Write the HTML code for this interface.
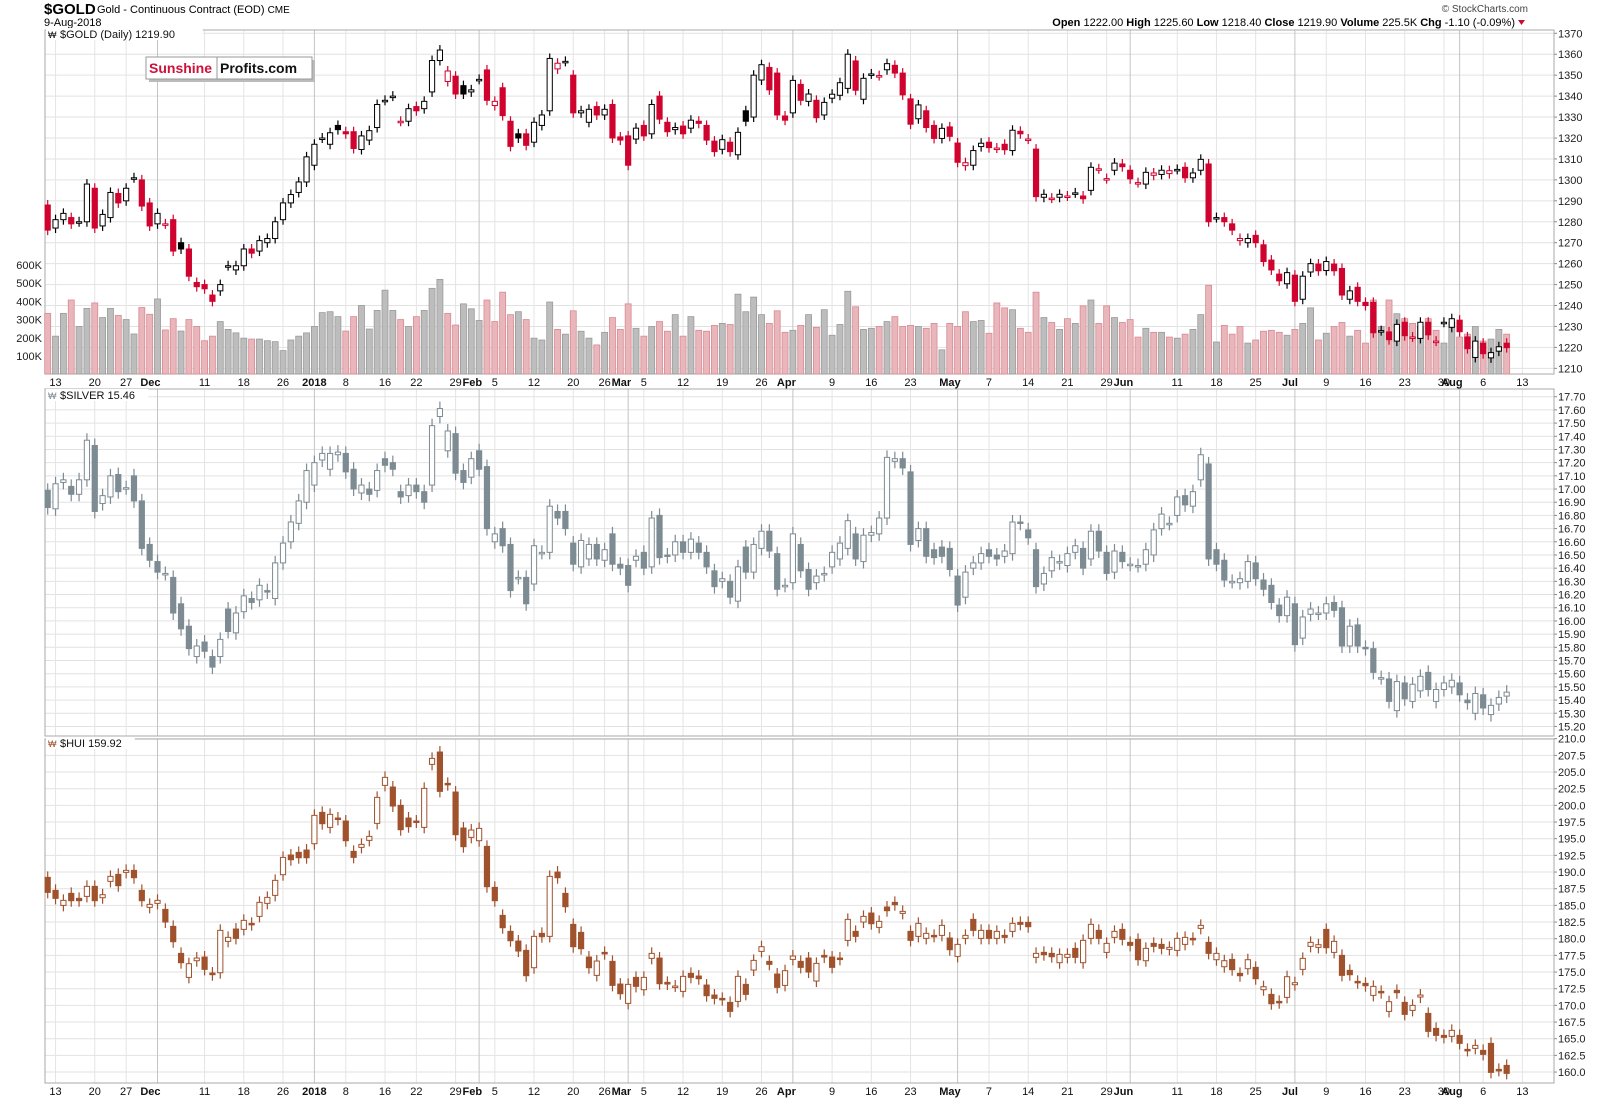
<!DOCTYPE html>
<html><head><meta charset="utf-8"><style>
html,body{margin:0;padding:0;background:#fff}
svg{display:block;font-family:"Liberation Sans",Arial,sans-serif}
</style></head><body>
<svg id="c" width="1600" height="1100" viewBox="0 0 1600 1100" xmlns="http://www.w3.org/2000/svg">
<text x="44" y="14" font-size="15" font-weight="bold">$GOLD</text>
<text x="97" y="13" font-size="11">Gold - Continuous Contract (EOD) <tspan font-size="10">CME</tspan></text>
<text x="44" y="26" font-size="11">9-Aug-2018</text>
<text x="1528" y="12" font-size="10" fill="#444" text-anchor="end">© StockCharts.com</text>
<text x="1515" y="26" font-size="11" text-anchor="end"><tspan font-weight="bold">Open</tspan> 1222.00 <tspan font-weight="bold">High</tspan> 1225.60 <tspan font-weight="bold">Low</tspan> 1218.40 <tspan font-weight="bold">Close</tspan> 1219.90 <tspan font-weight="bold">Volume</tspan> 225.5K <tspan font-weight="bold">Chg</tspan> -1.10 (-0.09%)</text>
<polygon points="1518,20 1525,20 1521.5,25" fill="#c8102e"/>
<g id="grid"></g>
<g id="marks"></g>
<g id="labels"></g>
<g>
<rect x="149" y="60" width="166" height="22" fill="#bbb"/>
<rect x="146" y="57" width="166" height="22" fill="#fff" stroke="#999" stroke-width="1"/>
<line x1="217" y1="57" x2="217" y2="79" stroke="#999"/>
<text x="149" y="73" font-size="14" font-weight="bold" fill="#d0103a">Sunshine</text>
<text x="220" y="73" font-size="14" font-weight="bold" fill="#111">Profits.com</text>
</g>
</svg>
<script>
const goldOpen=[1288,1277,1281,1282,1280,1280,1296,1278,1282,1293.5,1290,1301,1300,1289,1279,1279,1281,1270,1267,1251,1250,1245,1247,1259,1257,1259,1267,1266,1270,1272,1281,1289,1294,1299,1307,1320,1317,1326,1323,1323,1314.5,1319,1325,1338,1340,1328,1328,1335,1334,1342,1357,1347,1349.5,1345,1342,1348,1352.5,1335.5,1344,1328,1322,1322,1318,1326,1333,1353,1356.6,1350,1332,1327.5,1335,1331,1336,1320.5,1321,1319.5,1326,1322,1340,1327.5,1324,1325.7,1324.7,1328,1326,1318.5,1314.6,1318,1312,1333,1330,1347.7,1353.7,1351,1330.5,1332,1345.6,1337.5,1338,1331,1339,1340.4,1343.7,1356.8,1338.5,1350.6,1349.8,1352.6,1354.7,1351,1338.7,1329.2,1333,1326,1319.8,1325.3,1317.6,1306.8,1307,1315.9,1318,1315.2,1317,1314,1323.2,1319.5,1314.7,1291.7,1291.3,1291.7,1292.3,1293.8,1292.3,1295,1305.3,1300.6,1304.6,1307.6,1304.6,1298.7,1298,1302.2,1302.6,1303,1305,1306,1301,1304.6,1307.6,1282,1282,1279,1271,1270,1273.5,1269,1261.7,1255,1250.4,1254.5,1243,1256,1259.8,1256.7,1259.8,1257.7,1243,1248.7,1241.5,1241.5,1228,1227.4,1223,1232,1225,1224.3,1232,1223,1232,1229.6,1233,1225,1215.2,1222,1215,1218.2,1222];
const goldClose=[1276,1281,1284,1279,1280,1298,1277,1283.5,1294,1289,1296,1301,1287.5,1278,1284,1279,1266,1267,1254,1249,1248,1242,1250,1259,1259,1267,1265,1271,1272,1280,1289,1293,1299,1311,1317,1320,1322.5,1324,1322,1315,1321,1323.5,1336,1338,1340,1328,1334,1333,1337.5,1357,1362,1352,1341,1341,1343,1348,1338,1337.5,1330.7,1316,1320,1316.5,1327.5,1331,1358,1355.7,1356.6,1332,1333,1333.7,1331,1333.7,1320,1319,1307,1324.7,1321,1336,1329,1323,1325,1322,1328.5,1327,1319,1313.5,1319.2,1313.5,1322.7,1328,1350,1355,1343,1331,1328.5,1347.5,1338,1341,1329.7,1337,1340.9,1346.4,1360,1342.8,1348.5,1350.6,1349.8,1355.5,1351,1340.6,1326.6,1335.8,1325,1319.8,1324.6,1320.8,1308.4,1308.2,1314,1317.5,1315.4,1315.2,1314.4,1323.7,1322,1319.5,1292,1293.1,1291.3,1293.1,1292.3,1293.8,1291,1306,1305.3,1300.6,1308,1306.3,1300.5,1298.7,1303.6,1303.3,1304.6,1304.4,1305,1301,1303.3,1309.8,1280,1282,1280,1276,1272,1272,1270,1261,1257,1251.8,1255.7,1242,1254,1260,1256.6,1261,1256.6,1245,1247,1242,1240,1227,1228,1223.7,1231,1225.6,1225,1232,1226,1223,1232,1233.7,1227.5,1219.4,1223,1217,1217.5,1220.3,1219.9];
const goldVolumeK=[334,209,334,407,262,361,391,311,361,323,300,221,366,329,413,243,305,237,300,262,184,209,289,246,227,198,193,193,184,179,130,188,209,227,262,338,343,316,237,316,377,248,350,461,350,300,262,316,350,471,520,334,270,386,359,295,407,289,450,327,343,300,198,188,396,246,220,348,236,198,161,230,311,246,386,252,209,262,289,236,327,209,316,241,236,268,279,273,439,343,423,327,279,348,230,241,268,327,257,354,214,273,455,370,246,252,262,289,316,262,268,262,252,279,134,279,262,343,289,295,225,391,364,354,252,230,450,311,284,246,305,279,375,407,279,375,311,284,300,204,252,230,230,204,198,220,246,327,488,177,268,220,262,171,188,236,241,230,214,246,279,364,188,225,262,284,209,241,171,407,262,407,332,305,279,262,305,241,171,284,204,220,262,182,193,246,220];
const silverOpen=[16.99,16.85,17.05,17.02,16.96,17.07,17.33,16.89,16.94,17.11,17.01,17.10,16.91,16.58,16.45,16.36,16.33,16.13,15.96,15.73,15.84,15.73,15.73,16.09,15.91,16.07,16.17,16.16,16.23,16.17,16.44,16.60,16.74,16.90,17.03,17.22,17.15,17.26,17.27,17.15,16.97,17.00,16.99,17.23,17.20,16.98,16.95,17.03,16.98,17.03,17.55,17.29,17.42,17.14,17.09,17.29,17.17,16.60,16.70,16.58,16.33,16.33,16.28,16.52,16.52,16.83,16.83,16.59,16.41,16.47,16.58,16.46,16.66,16.43,16.42,16.46,16.52,16.41,16.80,16.50,16.50,16.60,16.52,16.59,16.52,16.38,16.30,16.30,16.15,16.56,16.37,16.55,16.68,16.51,16.27,16.29,16.58,16.39,16.29,16.35,16.41,16.47,16.55,16.66,16.45,16.65,16.66,16.78,17.21,17.23,17.13,16.61,16.70,16.54,16.56,16.55,16.34,16.18,16.40,16.44,16.54,16.50,16.49,16.51,16.75,16.69,16.54,16.28,16.38,16.44,16.42,16.52,16.55,16.47,16.68,16.52,16.37,16.52,16.43,16.42,16.43,16.50,16.70,16.74,16.80,16.95,16.87,17.07,17.19,16.54,16.46,16.30,16.29,16.30,16.44,16.31,16.27,16.12,16.04,16.13,15.87,16.05,16.06,16.06,16.14,16.10,15.81,15.97,15.80,15.79,15.57,15.56,15.32,15.53,15.39,15.47,15.61,15.39,15.48,15.50,15.53,15.40,15.30,15.44,15.29,15.37,15.43];
const silverClose=[16.86,17.04,17.07,16.96,17.07,17.37,16.83,16.95,17.10,16.98,17.01,16.91,16.55,16.46,16.37,16.36,16.06,15.94,15.79,15.81,15.77,15.65,15.86,15.92,16.06,16.19,16.14,16.27,16.22,16.44,16.59,16.75,16.91,17.14,17.20,17.27,17.27,17.28,17.13,17.00,17.03,16.96,17.14,17.18,17.15,16.94,17.03,16.98,16.90,17.48,17.61,17.44,17.12,17.05,17.23,17.15,16.70,16.66,16.57,16.23,16.33,16.13,16.57,16.52,16.87,16.78,16.70,16.43,16.61,16.58,16.47,16.54,16.43,16.40,16.27,16.49,16.40,16.78,16.48,16.49,16.60,16.52,16.62,16.52,16.41,16.26,16.32,16.18,16.41,16.37,16.58,16.68,16.53,16.24,16.27,16.66,16.38,16.24,16.34,16.36,16.52,16.59,16.76,16.47,16.65,16.67,16.78,17.24,17.23,17.16,16.58,16.70,16.49,16.48,16.49,16.39,16.12,16.37,16.44,16.51,16.49,16.47,16.53,16.75,16.74,16.63,16.26,16.36,16.48,16.45,16.51,16.57,16.40,16.68,16.53,16.36,16.53,16.45,16.43,16.42,16.54,16.69,16.81,16.74,16.94,16.88,16.98,17.26,16.47,16.43,16.31,16.30,16.32,16.45,16.32,16.24,16.14,16.04,16.18,15.82,16.03,16.09,16.06,16.13,16.08,15.81,15.96,15.81,15.79,15.61,15.57,15.39,15.54,15.41,15.52,15.58,15.48,15.48,15.53,15.55,15.44,15.38,15.45,15.34,15.36,15.42,15.46];
const huiOpen=[189.2,187.25,185,186.8,186.05,186.35,187.85,186.15,188.6,189.65,189.95,190.25,187.25,184.7,185.3,184.4,181.85,177.8,174.2,176.7,177.25,174.85,174.9,179.6,181.45,181.4,182.3,183.35,185.3,186.5,189.6,192.55,192.95,193.3,194.25,198.95,196.7,198.1,197.65,193.1,193.7,194.75,197.3,203,202.75,200,198.1,197.65,196.7,206.15,208,203.3,202,196.6,195.2,194.7,193.85,187.7,183.5,181.1,179.65,178.25,175.65,180.8,180.35,190,186.8,182.15,180.95,177.25,174.5,177.95,176.6,173.2,170.3,174.2,172.35,177.05,177.1,173.45,172.9,172.1,174.8,174.4,173.05,171.55,171.05,170.45,170.6,173.15,175.3,178.1,176.6,174.7,173,176.9,176.6,177.1,173.65,177.5,177.25,177.1,179.75,181.1,182.5,183.85,181.7,184.75,185.45,183.8,181.1,180.35,180.05,180.5,180.5,180.1,177.35,180.05,182.9,180.05,181.25,180.05,180.5,181.1,182.45,182.45,177.2,177.95,177.8,176.4,177.2,178.55,176.4,180.05,181.25,177.95,180.2,181.4,179.45,179.9,176.7,179.3,179.15,178.4,178.25,179.15,180.05,181.55,179.45,176.85,175.8,176.9,174.8,175.5,175.7,172.35,171.65,170.6,171.2,173.1,175.4,178.85,178.7,181.4,177.95,177.5,175.25,173.6,173.3,171.5,172.1,169.1,172.25,170.45,169.25,171.25,168.8,166.55,165.5,165.35,165.5,163.4,163.55,163.25,164.3,160.4,161];
const huiClose=[186.95,186.05,185.75,185.7,185.7,187.85,185.7,186.6,189.35,187.95,190.25,189.15,185.7,185.15,185.75,182.5,179.55,176.4,176.25,177.1,175.4,174.6,181.25,180.2,180.05,182.75,182.1,185.45,186.2,188.75,192.2,191.85,192.15,192.15,198.5,197.25,198.65,197.9,194.7,192.2,194.15,195.35,201.2,204.2,199.9,196.35,196.8,197.5,202.55,207.05,202.1,203.1,195.6,193.8,196.3,196.55,187.8,185.7,181.65,179.7,178.15,174.45,180.35,180.3,189.35,189.15,184.8,178.8,178.5,175.65,176.65,177.75,173,171.75,173.15,172.85,174.2,177.8,173.25,173.2,172.9,174.35,174.2,174,171.45,171.05,170.85,169.1,174.35,171.65,176.75,178.8,176.15,172.7,175.2,177.4,175.7,175,176.3,177.25,175.7,176.9,182.9,180.35,183.35,182.25,182.6,184.2,185.1,184.1,179.75,182.3,180.8,180.35,182,178.35,179.15,180.5,181.25,181.25,180.05,181.1,180.2,182.3,182.15,181.8,177.8,177.6,177.3,177.65,177.65,177.2,179.75,182.15,180.05,179.3,181.1,179.9,179,176.85,178.55,178.85,178.55,178.7,180.05,180.2,179.9,182,177.8,177.8,176.7,175.35,174.45,176.85,174,172.8,170.25,170.4,174.3,173.4,177.05,179.45,179.1,178.65,179.6,174.5,174.6,173.4,172.95,172.85,171.9,170.55,171.9,168.65,170,171.55,166.1,165.5,165.2,166.25,164.3,163.25,164,162.65,159.95,160.25,159.8];
const dateTickIndex=[1,6,10,14,20,25,30,34,38,43,47,52,55,57,62,67,71,74,76,81,86,91,95,100,105,110,116,120,125,130,135,138,144,149,154,159,163,168,173,178,180,183,188];
const dateTickLabel=["13","20","27","Dec","11","18","26","2018","8","16","22","29","Feb","5","12","20","26","Mar","5","12","19","26","Apr","9","16","23","May","7","14","21","29","Jun","11","18","25","Jul","9","16","23","30","Aug","6","13"];
const monthTicks=["Dec","2018","Feb","Mar","Apr","May","Jun","Jul","Aug"];
const goldTicks=[1210,1220,1230,1240,1250,1260,1270,1280,1290,1300,1310,1320,1330,1340,1350,1360,1370];
const silverTicks=[15.2,15.3,15.4,15.5,15.6,15.7,15.8,15.9,16.0,16.1,16.2,16.3,16.4,16.5,16.6,16.7,16.8,16.9,17.0,17.1,17.2,17.3,17.4,17.5,17.6,17.7];
const huiTicks=[160,162.5,165,167.5,170,172.5,175,177.5,180,182.5,185,187.5,190,192.5,195,197.5,200,202.5,205,207.5,210];
const volumeTicksK=[100,200,300,400,500,600];

const NS="http://www.w3.org/2000/svg";
const L=45,R=1554;
const xOf=i=>47.7+i*7.844;
const yGold=p=>33.3+(1370-p)*2.094;
const ySilver=p=>396.7+(17.70-p)*131.9;
const yHui=p=>738.7+(210-p)*6.667;
const yVol=v=>374.3-v/100*18.25;
const panels=[{t:30,b:374},{t:389,b:736},{t:739,b:1083}];
const grid=document.getElementById('grid'),marks=document.getElementById('marks'),labels=document.getElementById('labels');
function mk(tag,attrs,parent){const e=document.createElementNS(NS,tag);for(const k in attrs)e.setAttribute(k,attrs[k]);parent.appendChild(e);return e;}

const hg=[[goldTicks,yGold,v=>String(v),0],[silverTicks,ySilver,v=>v.toFixed(2),1],[huiTicks,yHui,v=>v.toFixed(1),2]];
hg.forEach(([ticks,fy,fmt,pi])=>{
  const P=panels[pi];
  ticks.forEach(v=>{
    const y=fy(v);
    if(y<P.t-1||y>P.b+1)return;
    const ln=mk('line',{x1:L,x2:R,y1:y,y2:y,stroke:'#e2e2e2','stroke-width':1},grid);
    
    
    mk('line',{x1:R,x2:R+3,y1:y,y2:y,stroke:'#888'},grid);
    const t=mk('text',{x:R+4,y:y+4,'font-size':11,fill:'#222'},labels);
    t.textContent=fmt(v);
    
    
  });
});
dateTickIndex.forEach((ix,k)=>{
  const x=xOf(ix);
  const isMonth=monthTicks.includes(dateTickLabel[k]);
  panels.forEach(P=>{
    const ln=mk('line',{x1:x,x2:x,y1:P.t,y2:P.b,stroke:isMonth?'#c4c4c4':'#e4e4e4','stroke-width':1},grid);
    
    
  });
  if(x>R)return;
  [386,1095].forEach(y=>{
    const lab=dateTickLabel[k];
    const t=mk('text',{x:x,y:y,'font-size':11,'text-anchor':isMonth&&lab!=='2018'?'end':'middle','font-weight':isMonth?'bold':'normal',fill:'#111'},labels);
    if(isMonth&&lab!=='2018'){t.setAttribute('x',x+3);}
    t.textContent=lab;
    
    
  });
});
panels.forEach(P=>{
  const r=mk('rect',{x:L,y:P.t,width:R-L,height:P.b-P.t,fill:'none',stroke:'#aaa'},grid);
  
  
});
mk('line',{x1:L,x2:R,y1:736,y2:736,stroke:'#aaa'},grid);

volumeTicksK.forEach(v=>{
  const t=mk('text',{x:42,y:yVol(v)+4,'font-size':11,'text-anchor':'end',fill:'#222'},labels);
  t.textContent=v+'K';
  
  
});

goldVolumeK.forEach((v,i)=>{
  const down=i===0?true:goldClose[i]<goldClose[i-1];
  const x=xOf(i),y=yVol(v);
  const b=mk('rect',{x:x-3,y:y,width:6,height:374-y,fill:down?'#e8b6bb':'#bdbdbd',stroke:down?'#d98a92':'#9a9a9a','stroke-width':0.8},marks);
  
  
});

function candle(i,o,c,fy,color,fillColor,wick,name){
  const x=xOf(i);
  const yo=fy(o),yc=fy(c);
  const top=Math.min(yo,yc),bot=Math.max(yo,yc);
  const g=mk('g',{},marks);
  
  
  mk('line',{x1:x,x2:x,y1:top-wick,y2:bot+wick,stroke:color,'stroke-width':1.2},g);
  const h=Math.max(bot-top,1.5);
  mk('rect',{x:x-2.6,y:top,width:5.2,height:h,fill:c<o?fillColor:'#fff',stroke:color,'stroke-width':1},g);
}
goldClose.forEach((c,i)=>{
  const down=i===0?true:c<goldClose[i-1];
  const col=down?'#d0022e':'#000';
  candle(i,goldOpen[i],c,yGold,col,col,5,'gold-candle');
});
silverClose.forEach((c,i)=>{candle(i,silverOpen[i],c,ySilver,'#7d8b93','#7d8b93',7,'silver-candle');});
huiClose.forEach((c,i)=>{candle(i,huiOpen[i],c,yHui,'#a0522d','#a0522d',6,'hui-candle');});

[[48,38,'$GOLD (Daily) 1219.90','gold-panel-title'],[48,399,'$SILVER 15.46','silver-panel-title'],[48,747,'$HUI 159.92','hui-panel-title']].forEach(([x,y,s,n])=>{
  mk('rect',{x:x-2,y:y-10,width:s.length*6.8+14,height:12,fill:'#fff'},labels);
  const t=mk('text',{x:x+12,y:y,'font-size':11,fill:'#111'},labels);
  t.textContent=s;
  
  
  mk('text',{x:x,y:y,'font-size':9,fill:n==='hui-panel-title'?'#a0522d':(n==='silver-panel-title'?'#7d8b93':'#111')},labels).textContent='₩';
});
</script>
</body></html>
